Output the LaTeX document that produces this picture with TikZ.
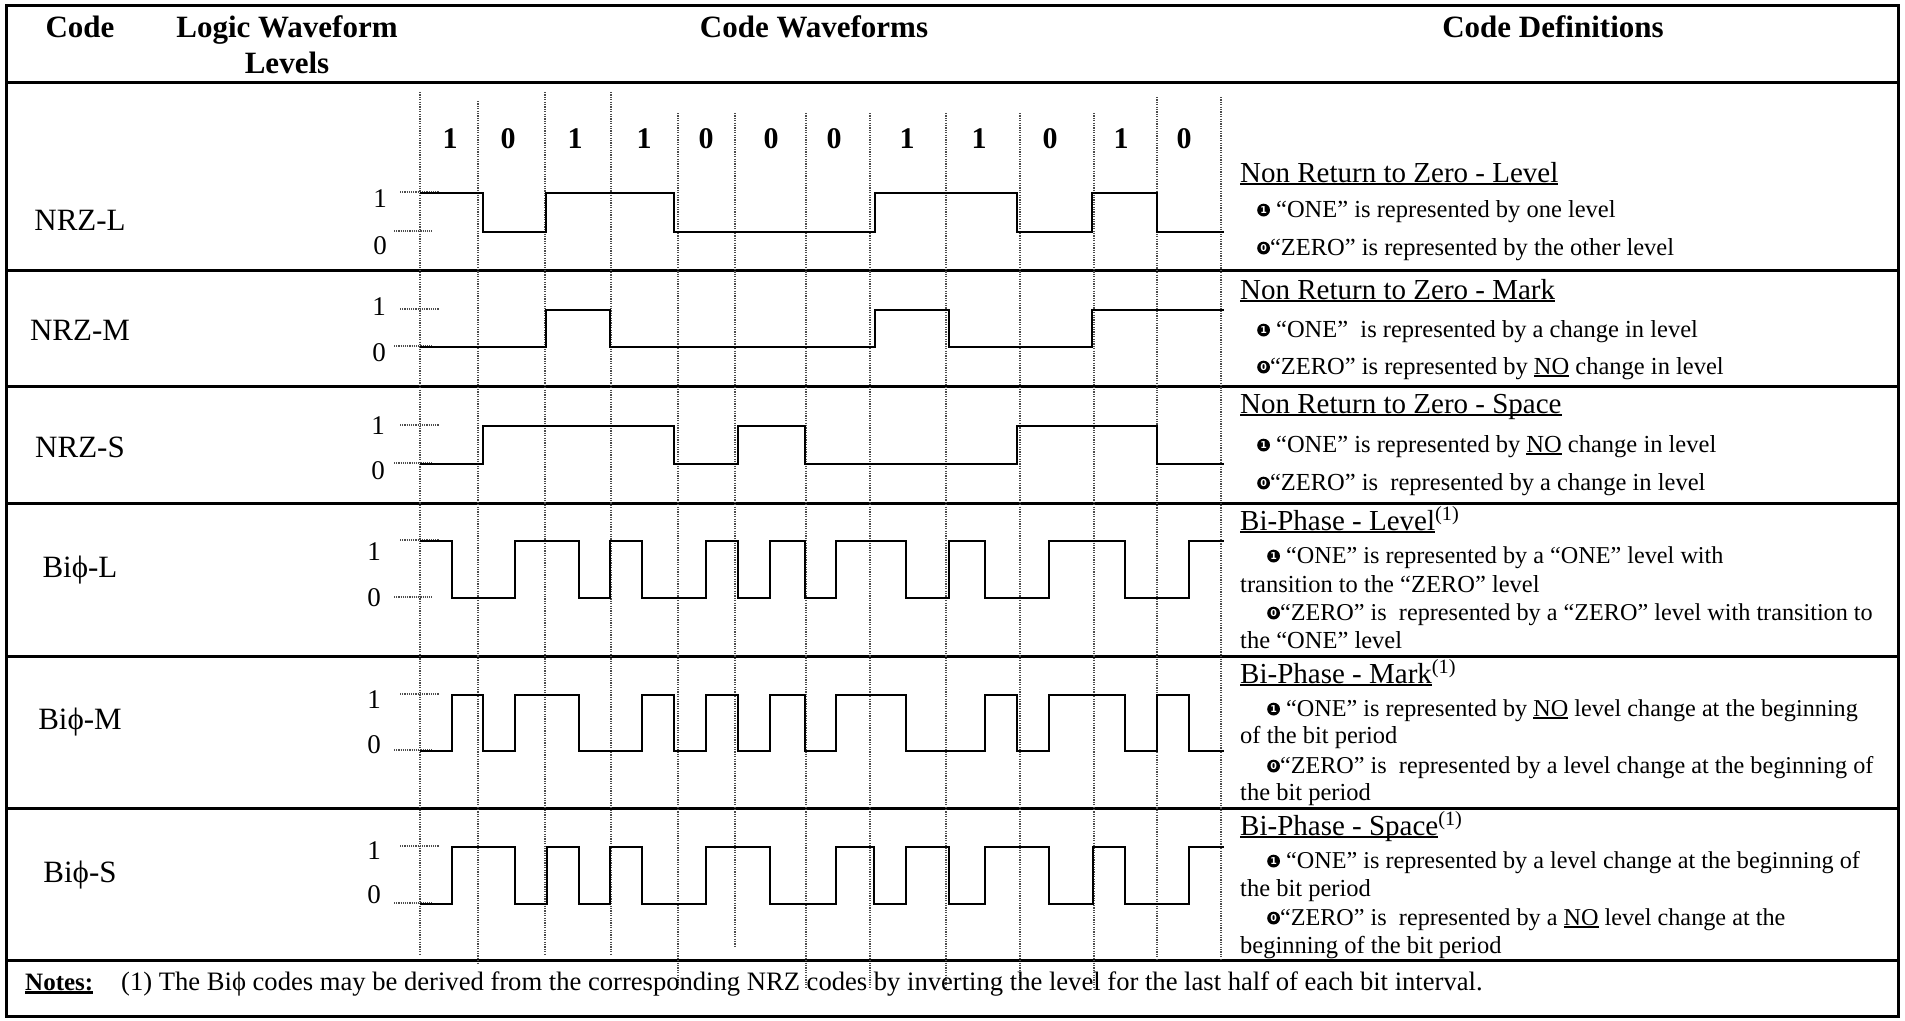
\documentclass[tikz,border=0pt]{standalone}
\usepackage{fontspec}
\setmainfont{Liberation Serif}
\newfontfamily\dvfont{DejaVu Sans}
\newcommand\myul[1]{\leavevmode\setbox0\hbox{#1}\rlap{\rule[-2.8pt]{\wd0}{1.5pt}}\box0\relax}
\newcommand\myulB[1]{\leavevmode\setbox0\hbox{#1}\rlap{\rule[-4pt]{\wd0}{2.6pt}}\box0\relax}
\newcommand\mybullet[1]{\tikz[baseline={(0,-6.9pt)}, x=1pt, y=1pt]{\fill[black] (0,0) circle (6.4pt); \node[anchor=center, inner sep=0pt, text=white, font=\dvfont\fontsize{9.5}{9.5}\selectfont\bfseries] at (0,0) {#1};}}
\newcommand\bulA{\mybullet{1}}
\newcommand\bulZ{\mybullet{0}}
\tikzset{
  tline/.style={line width=3pt},
  wave/.style={line width=2.6pt, line join=miter},
  gridline/.style={line width=1.1pt, dash pattern=on 1.1pt off 1.3pt, black!70},
  levtick/.style={line width=1.1pt, dash pattern=on 1.1pt off 1.1pt, black!70},
  hd/.style={inner sep=0pt, anchor=base, font=\fontsize{31}{36}\selectfont\bfseries},
  codelbl/.style={inner sep=0pt, anchor=base, font=\fontsize{31}{36}\selectfont},
  levlbl/.style={inner sep=0pt, anchor=base, font=\fontsize{27}{32}\selectfont},
  bitlbl/.style={inner sep=0pt, anchor=base, font=\fontsize{30}{36}\selectfont\bfseries},
  deftitle/.style={inner sep=0pt, anchor=base west, font=\fontsize{29}{34}\selectfont},
  defline/.style={inner sep=0pt, anchor=base west, font=\fontsize{24.5}{28}\selectfont},
  bidefline/.style={inner sep=0pt, anchor=base west, font=\fontsize{24.2}{28}\selectfont},
}
\begin{document}
\begin{tikzpicture}[x=1pt,y=-1pt]
\useasboundingbox (0,0) rectangle (1905,1020);
\fill[white] (0,0) rectangle (1905,1020);
% table frame
\draw[tline] (6,5) rectangle (1898,1016);
\foreach \y in {82,270,386,503,656,808,960.5} \draw[tline] (6,\y) -- (1898,\y);
% header
\node[hd] (hcode) at (80,37) {Code};
\node[hd] (hlogic) at (287,37) {Logic Waveform};
\node[hd] (hlevels) at (287,73) {Levels};
\node[hd] (hwave) at (814,37) {Code Waveforms};
\node[hd] (hdef) at (1553,37) {Code Definitions};
% bit boundary dotted lines
\foreach \x/\t/\b in {420/92/955, 478/101/963, 545/92/955, 611/92/955, 678/113/988, 735/113/946, 806/113/988, 870/113/988, 946/113/988, 1020/113/983, 1094/113/988, 1157/97/960, 1221/97/960}
  \draw[gridline] (\x,\t) -- (\x,\b);
% bit labels
\foreach \x/\v [count=\i] in {450/1,508/0,575/1,644/1,706/0,771/0,834/0,907/1,979/1,1050/0,1121/1,1184/0}
  \node[bitlbl] (bit\i) at (\x,148) {\v};
% code labels
\node[codelbl] (cNRZL) at (80,230) {NRZ-L};
\node[codelbl] (cNRZM) at (80,340) {NRZ-M};
\node[codelbl] (cNRZS) at (80,457) {NRZ-S};
\node[codelbl] (cBiL) at (80,577) {Biϕ-L};
\node[codelbl] (cBiM) at (80,729) {Biϕ-M};
\node[codelbl] (cBiS) at (80,882) {Biϕ-S};
% level labels and ticks
\foreach \n/\H/\L/\a/\z/\lx in {NRZL/193/232/207/254/380, NRZM/310/347/315/361/379, NRZS/426/464/434/479/378, BiL/541/598/560/606/374, BiM/695/751/708/753/374, BiS/847/904/859/903/374}{
  \node[levlbl] (one\n) at (\lx,\a) {1};
  \node[levlbl] (zero\n) at (\lx,\z) {0};
  \draw[levtick] (400,\H-1) -- (439,\H-1);
  \draw[levtick] (394,\L-1) -- (432,\L-1);
}
% waveforms
\draw[wave] (420,193) -| (483,232) -| (546,193) -| (674,232) -| (875,193) -| (1017,232) -| (1092,193) -| (1157,232) -- (1224,232);
\draw[wave] (420,347) -| (546,310) -| (610,347) -| (875,310) -| (949,347) -| (1092,310) -- (1224,310);
\draw[wave] (420,464) -| (483,426) -| (674,464) -| (738,426) -| (805,464) -| (1017,426) -| (1157,464) -- (1224,464);
\draw[wave] (420,541) -| (452,598) -| (515,541) -| (579,598) -| (610,541) -| (642,598) -| (706,541) -| (738,598) -| (770,541) -| (805,598) -| (836,541) -| (906,598) -| (949,541) -| (985,598) -| (1049,541) -| (1125,598) -| (1189,541) -- (1224,541);
\draw[wave] (420,751) -| (452,695) -| (483,751) -| (515,695) -| (579,751) -| (642,695) -| (674,751) -| (706,695) -| (738,751) -| (770,695) -| (805,751) -| (836,695) -| (906,751) -| (985,695) -| (1017,751) -| (1049,695) -| (1125,751) -| (1157,695) -| (1189,751) -- (1224,751);
\draw[wave] (420,904) -| (452,847) -| (515,904) -| (547,847) -| (579,904) -| (610,847) -| (642,904) -| (706,847) -| (770,904) -| (836,847) -| (874,904) -| (906,847) -| (949,904) -| (985,847) -| (1049,904) -| (1093,847) -| (1125,904) -| (1189,847) -- (1224,847);
% definitions
\node[deftitle] (tNRZL) at (1240,182) {\myul{Non Return to Zero - Level}};
\node[defline] (dNRZL1) at (1257,217) {\bulA{} “ONE” is represented by one level};
\node[defline] (dNRZL2) at (1257,255) {\bulZ“ZERO” is represented by the other level};
\node[deftitle] (tNRZM) at (1240,299) {\myul{Non Return to Zero - Mark}};
\node[defline] (dNRZM1) at (1257,337) {\bulA{} “ONE”\ \ is represented by a change in level};
\node[defline] (dNRZM2) at (1257,374) {\bulZ“ZERO” is represented by \myul{NO} change in level};
\node[deftitle] (tNRZS) at (1240,413) {\myul{Non Return to Zero - Space}};
\node[defline] (dNRZS1) at (1257,452) {\bulA{} “ONE” is represented by \myul{NO} change in level};
\node[defline] (dNRZS2) at (1257,490) {\bulZ“ZERO” is\ \ represented by a change in level};
\node[deftitle] (tBiL) at (1240,530) {\myul{Bi-Phase - Level}\textsuperscript{(1)}};
\node[bidefline] (dBiL1) at (1267,563) {\bulA{} “ONE” is represented by a “ONE” level with};
\node[defline] (dBiL2) at (1240,592) {transition to the “ZERO” level};
\node[bidefline] (dBiL3) at (1267,620) {\bulZ“ZERO” is\ \ represented by a “ZERO” level with transition to};
\node[defline] (dBiL4) at (1240,648) {the “ONE” level};
\node[deftitle] (tBiM) at (1240,683) {\myul{Bi-Phase - Mark}\textsuperscript{(1)}};
\node[bidefline] (dBiM1) at (1267,716) {\bulA{} “ONE” is represented by \myul{NO} level change at the beginning};
\node[defline] (dBiM2) at (1240,743) {of the bit period};
\node[bidefline] (dBiM3) at (1267,773) {\bulZ“ZERO” is\ \ represented by a level change at the beginning of};
\node[defline] (dBiM4) at (1240,800) {the bit period};
\node[deftitle] (tBiS) at (1240,835) {\myul{Bi-Phase - Space}\textsuperscript{(1)}};
\node[bidefline] (dBiS1) at (1267,868) {\bulA{} “ONE” is represented by a level change at the beginning of};
\node[defline] (dBiS2) at (1240,896) {the bit period};
\node[bidefline] (dBiS3) at (1267,925) {\bulZ“ZERO” is\ \ represented by a \myul{NO} level change at the};
\node[defline] (dBiS4) at (1240,953) {beginning of the bit period};
% notes
\node[defline, font=\fontsize{25}{29}\selectfont\bfseries] (notesH) at (25,990) {\myulB{Notes:}};
\node[defline, font=\fontsize{26.6}{30}\selectfont] (notesT) at (121,990) {(1) The Biϕ codes may be derived from the corresponding NRZ codes by inverting the level for the last half of each bit interval.};
\end{tikzpicture}
\end{document}
